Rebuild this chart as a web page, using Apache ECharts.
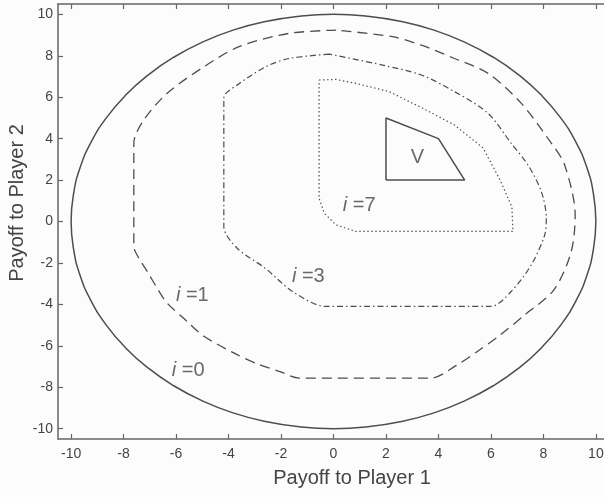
<!DOCTYPE html>
<html>
<head>
<meta charset="utf-8">
<script src="https://cdn.jsdelivr.net/npm/echarts@6/dist/echarts.min.js"></script>
<style>
  html, body { margin: 0; padding: 0; background: #fcfcfc; }
  #chart { width: 604px; height: 497px; }
</style>
</head>
<body>
<div id="chart"></div>
<script>
// Tick values shared by both axes
const tickValues = [-10, -8, -6, -4, -2, 0, 2, 4, 6, 8, 10];

// Feasible payoff region boundary (i = 0)
const setI0 = [
  [10, 0], [9.91, 1.31], [9.66, 2.59], [9.24, 3.83], [8.66, 5], [7.93, 6.09],
  [7.07, 7.07], [6.09, 7.93], [5, 8.66], [3.83, 9.24], [2.59, 9.66], [1.31, 9.91],
  [0, 10], [-1.31, 9.91], [-2.59, 9.66], [-3.83, 9.24], [-5, 8.66], [-6.09, 7.93],
  [-7.07, 7.07], [-7.93, 6.09], [-8.66, 5], [-9.24, 3.83], [-9.66, 2.59], [-9.91, 1.31],
  [-10, 0], [-9.91, -1.31], [-9.66, -2.59], [-9.24, -3.83], [-8.66, -5], [-7.93, -6.09],
  [-7.07, -7.07], [-6.09, -7.93], [-5, -8.66], [-3.83, -9.24], [-2.59, -9.66], [-1.31, -9.91],
  [0, -10], [1.31, -9.91], [2.59, -9.66], [3.83, -9.24], [5, -8.66], [6.09, -7.93],
  [7.07, -7.07], [7.93, -6.09], [8.66, -5], [9.24, -3.83], [9.66, -2.59], [9.91, -1.31],
  [10, 0]
];

// Iterated sets
const setI1 = [
  [0.1, 9.24], [-1.7, 9.08], [-3.6, 8.44], [-4.94, 7.47], [-6.34, 6.19],
  [-7.23, 4.9], [-7.61, 3.78], [-7.61, -1.2], [-7.42, -1.77], [-7.1, -2.41],
  [-6.72, -3.22], [-6.34, -3.94], [-5.6, -4.8], [-4.94, -5.54], [-3.67, -6.43],
  [-2.83, -6.91], [-2.07, -7.23], [-1.31, -7.56], [3.71, -7.56], [4.67, -6.96],
  [5.43, -6.32], [6.32, -5.51], [7.3, -4.5], [8.4, -3.3], [9.05, -1.5],
  [9.21, 0.3], [8.81, 2.73], [8.3, 3.78], [7.16, 5.7], [5.89, 7.15],
  [4.61, 7.87], [3.35, 8.51], [2.25, 8.92], [0.1, 9.24]
];

const setI3 = [
  [-0.16, 8.08], [-1.69, 7.87], [-2.58, 7.47], [-3.6, 6.65], [-4.18, 5.95],
  [-4.18, -0.24], [-3.67, -1.29], [-2.6, -2.26], [-1.56, -3.38], [-0.29, -4.1],
  [6.0, -4.1], [6.77, -3.38], [7.54, -2.09], [8.05, -0.65], [8.11, 0.16],
  [7.92, 1.45], [7.41, 2.73], [6.77, 3.78], [5.89, 5.22], [4.61, 6.27],
  [3.35, 7.07], [1.87, 7.55], [-0.16, 8.08]
];

const setI7 = [
  [-0.55, 6.83], [0.09, 6.86], [0.85, 6.67], [2.12, 6.27], [3.35, 5.5],
  [4.61, 4.66], [5.7, 3.55], [6.35, 2.0], [6.8, 0.7], [6.84, -0.48],
  [0.85, -0.48], [0.09, -0.16], [-0.35, 0.4], [-0.55, 1.12], [-0.55, 6.83]
];

// Limit set V
const setV = [[2, 2], [2, 5], [4, 4], [5, 2], [2, 2]];

// Curve annotations
const labelX = [-5.54, -5.38, -0.96, 0.98, 3.2];
const labelY = [-7.17, -3.57, -2.64, 0.76, 3.08];
const labelIndex = ['0', '1', '3', '7', null];

const ink = '#4d4d4d';
const axisInk = '#666';
const font = '"Liberation Sans", Arial, Helvetica, sans-serif';

function curve(data, type, width, smooth) {
  return {
    type: 'line',
    data: data,
    symbol: 'none',
    smooth: smooth,
    silent: true,
    lineStyle: { color: ink, width: width, type: type }
  };
}

function axisCommon(position, showLabels, margin) {
  return {
    type: 'value', min: -10.5, max: 10.5, position: position,
    axisLine: { show: true, onZero: false, lineStyle: { color: axisInk, width: 1.5 } },
    axisTick: { show: true, customValues: tickValues, inside: true, length: 5, lineStyle: { color: axisInk, width: 1.2 } },
    axisLabel: { show: showLabels, customValues: tickValues, color: '#444', fontSize: 14, fontFamily: font, margin: margin },
    splitLine: { show: false }
  };
}

const labelData = labelX.map((x, k) => [x, labelY[k], labelIndex[k]]);

const chart = echarts.init(document.getElementById('chart'));
chart.setOption({
  backgroundColor: '#fcfcfc',
  animation: false,
  grid: { left: 58, top: 4, width: 551, height: 435, outerBoundsMode: 'none', containLabel: false },
  xAxis: [axisCommon('bottom', true, 8), axisCommon('top', false, 8)],
  yAxis: [axisCommon('left', true, 5), axisCommon('right', false, 5)],
  graphic: [{
    type: 'text', x: 352, y: 478,
    style: { text: 'Payoff to Player 1', font: '20px ' + font, fill: '#444', align: 'center', verticalAlign: 'middle' }
  }, {
    type: 'text', x: 17, y: 203, rotation: Math.PI / 2,
    style: { text: 'Payoff to Player 2', font: '20px ' + font, fill: '#444', align: 'center', verticalAlign: 'middle' }
  }],
  series: [
    curve(setI0, 'solid', 1.5, 0.5),
    curve(setI1, [10, 6], 1.3, 0.3),
    curve(setI3, [6, 3, 1.5, 3], 1.2, 0.3),
    curve(setI7, [1.4, 2.6], 1.2, false),
    curve(setV, 'solid', 1.5, false),
    {
      type: 'scatter',
      data: labelData,
      symbolSize: 1,
      itemStyle: { color: 'transparent' },
      silent: true,
      label: {
        show: true,
        position: 'inside',
        fontFamily: font,
        fontSize: 20,
        color: '#444',
        formatter: p => p.value[2] === null ? 'V' : '{it|i} =' + p.value[2],
        rich: { it: { fontStyle: 'italic', fontSize: 20, fontFamily: font, color: '#444' } }
      }
    }
  ]
});
</script>
</body>
</html>
